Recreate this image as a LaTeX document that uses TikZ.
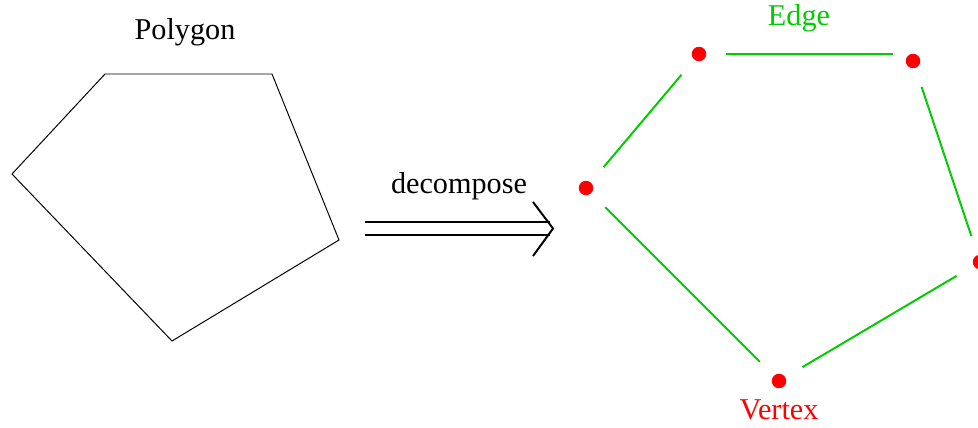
\documentclass[tikz,border=0pt]{standalone}
\usepackage{fontspec}
\setmainfont{Liberation Serif}
\usetikzlibrary{positioning}
\definecolor{edgegreen}{RGB}{0,205,0}

\begin{document}
\begin{tikzpicture}[x=0.025cm, y=-0.025cm,
    every node/.style={font=\fontsize{21.5}{26}\selectfont},
    vertex/.style={circle,fill=red,inner sep=0pt,minimum size=10.3pt},
    edge/.style={draw=edgegreen,line width=1.4pt,shorten <=14pt,shorten >=14pt}
]
\useasboundingbox (0,0) rectangle (978,427);

\node (title) at (185,32) {Polygon};

\draw[line width=0.7pt] (12,174) -- (105,74) -- (272,74) -- (339,240) -- (172,341) -- cycle;

\coordinate (arrs) at (365,228.5);
\coordinate (arre) at (550,228.5);
\draw[double, double distance=7.8pt, line width=1.4pt] (arrs) -- (arre);
\draw[line width=1.4pt] (533,202) -- (553,228.5) -- (533,256);
\node (dec) at (459,186) {decompose};

\begin{scope}
  \node[vertex] (v1) at (586,188) {};
  \node[vertex] (v2) at (699,54) {};
  \node[vertex] (v3) at (913,61) {};
  \node[vertex] (v4) at (980,262) {};
  \node[vertex] (v5) at (779,381) {};

  \draw[edge] (v1) -- (v2);
  \draw[edge] (v2) -- (v2 -| v3);
  \draw[edge] (v3) -- (v4);
  \draw[edge] (v4) -- (v5);
  \draw[edge] (v5) -- (v1);

  \node[text=edgegreen] (elabel) at (799,18) {Edge};
  \node[text=red] (vlabel) at (779,410) {Vertex};
\end{scope}

\end{tikzpicture}
\end{document}
